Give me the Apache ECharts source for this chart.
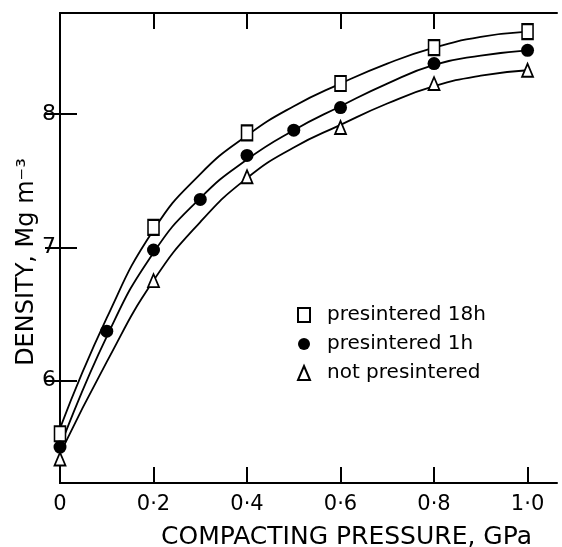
<!DOCTYPE html>
<html>
<head>
<meta charset="utf-8">
<script src="https://cdn.jsdelivr.net/npm/echarts@6/dist/echarts.min.js"></script>
<style>
  html, body { margin: 0; padding: 0; background: #fff; }
  #chart { width: 562px; height: 547px; }
</style>
</head>
<body>
<div id="chart"></div>
<script>
// measured points
var pressure = [0, 0.2, 0.4, 0.6, 0.8, 1.0];
var pressure1h = [0, 0.1, 0.2, 0.3, 0.4, 0.5, 0.6, 0.8, 1.0];
var density18h = [5.60, 7.15, 7.86, 8.23, 8.50, 8.62];
var density1h = [5.50, 6.37, 6.98, 7.36, 7.69, 7.88, 8.05, 8.38, 8.48];
var densityNot = [5.41, 6.75, 7.53, 7.90, 8.23, 8.33];

// fitted curves
var curveX = [0, 0.1, 0.2, 0.3, 0.4, 0.5, 0.6, 0.7, 0.8, 0.9, 1.0];
var curve18h = [5.64, 6.47, 7.13, 7.55, 7.84, 8.06, 8.23, 8.38, 8.50, 8.58, 8.62];
var curve1h = [5.50, 6.33, 6.96, 7.37, 7.66, 7.88, 8.06, 8.23, 8.37, 8.44, 8.48];
var curveNot = [5.45, 6.14, 6.75, 7.19, 7.52, 7.75, 7.92, 8.08, 8.21, 8.29, 8.33];

var xTicks = [0, 0.2, 0.4, 0.6, 0.8, 1.0];
var yTicks = [6, 7, 8];

var FONT = 'DejaVu Sans';

function pairs(xs, ys) {
    return xs.map(function (x, i) { return [x, ys[i]]; });
}
function fmtX(v) {
    if (v === 0) return '0';
    return v.toFixed(1).replace('.', '·');
}

var myChart = echarts.init(document.getElementById('chart'));

var curveStyle = { color: '#000', width: 1.8 };

myChart.setOption({
    animation: false,
    backgroundColor: '#fff',
    grid: { left: 60, right: 5, top: 13, bottom: 64, containLabel: false, outerBoundsMode: 'none' },
    legend: {
        orient: 'vertical',
        left: 292,
        top: 300,
        itemWidth: 12,
        itemHeight: 14,
        itemGap: 9,
        textStyle: { fontFamily: FONT, fontSize: 20, color: '#000', padding: [0, 0, 0, 12] },
        data: [
            { name: 'presintered 18h', icon: 'rect' },
            { name: 'presintered 1h', icon: 'circle' },
            { name: 'not presintered', icon: 'triangle' }
        ]
    },
    xAxis: [{
        type: 'value',
        min: 0,
        max: 1.063,
        name: 'COMPACTING PRESSURE, GPa',
        nameLocation: 'middle',
        nameGap: 42,
        nameMoveOverlap: false,
        nameTextStyle: { fontFamily: FONT, fontSize: 25, color: '#000', padding: [0, 0, 0, 76] },
        axisLine: { lineStyle: { color: '#000', width: 2 } },
        axisTick: { inside: true, length: 16, customValues: [0.2, 0.4, 0.6, 0.8, 1.0], lineStyle: { color: '#000', width: 2 } },
        axisLabel: { customValues: xTicks, formatter: fmtX, fontFamily: FONT, fontSize: 21, color: '#000', margin: 11 },
        splitLine: { show: false }
    }, {
        type: 'value',
        position: 'top',
        min: 0,
        max: 1.063,
        axisLine: { lineStyle: { color: '#000', width: 2 } },
        axisTick: { inside: true, length: 16, customValues: [0.2, 0.4, 0.6, 0.8], lineStyle: { color: '#000', width: 2 } },
        axisLabel: { show: false },
        splitLine: { show: false }
    }],
    yAxis: [{
        type: 'value',
        min: 5.23,
        max: 8.76,
        name: 'DENSITY, Mg m⁻³',
        nameLocation: 'middle',
        nameGap: 21,
        nameMoveOverlap: false,
        nameTextStyle: { fontFamily: FONT, fontSize: 24, color: '#000', padding: [0, 28, 0, 0] },
        axisLine: { lineStyle: { color: '#000', width: 2 } },
        axisTick: { inside: true, length: 17, customValues: yTicks, lineStyle: { color: '#000', width: 2 } },
        axisLabel: { customValues: yTicks, fontFamily: FONT, fontSize: 22, color: '#000', margin: 4 },
        splitLine: { show: false }
    }, {
        type: 'value',
        position: 'right',
        min: 5.23,
        max: 8.76,
        axisLine: { lineStyle: { color: '#000', width: 2 } },
        axisTick: { inside: true, length: 15, customValues: yTicks, lineStyle: { color: '#000', width: 2 } },
        axisLabel: { show: false },
        splitLine: { show: false }
    }],
    series: [
        { type: 'line', smooth: true, showSymbol: false, silent: true, lineStyle: curveStyle, data: pairs(curveX, curve18h) },
        { type: 'line', smooth: true, showSymbol: false, silent: true, lineStyle: curveStyle, data: pairs(curveX, curve1h) },
        { type: 'line', smooth: true, showSymbol: false, silent: true, lineStyle: curveStyle, data: pairs(curveX, curveNot) },
        {
            name: 'presintered 18h',
            type: 'scatter',
            symbol: 'rect',
            symbolSize: [11, 15],
            itemStyle: { color: '#fff', borderColor: '#000', borderWidth: 1.8, opacity: 1 },
            data: pairs(pressure, density18h),
            z: 5
        },
        {
            name: 'presintered 1h',
            type: 'scatter',
            symbol: 'circle',
            symbolSize: 13,
            itemStyle: { color: '#000', borderColor: '#000', borderWidth: 0, opacity: 1 },
            data: pairs(pressure1h, density1h),
            z: 5
        },
        {
            name: 'not presintered',
            type: 'scatter',
            symbol: 'triangle',
            symbolSize: [11, 13],
            itemStyle: { color: '#fff', borderColor: '#000', borderWidth: 1.8, opacity: 1 },
            data: pairs(pressure, densityNot),
            z: 5
        }
    ]
});
</script>
</body>
</html>
